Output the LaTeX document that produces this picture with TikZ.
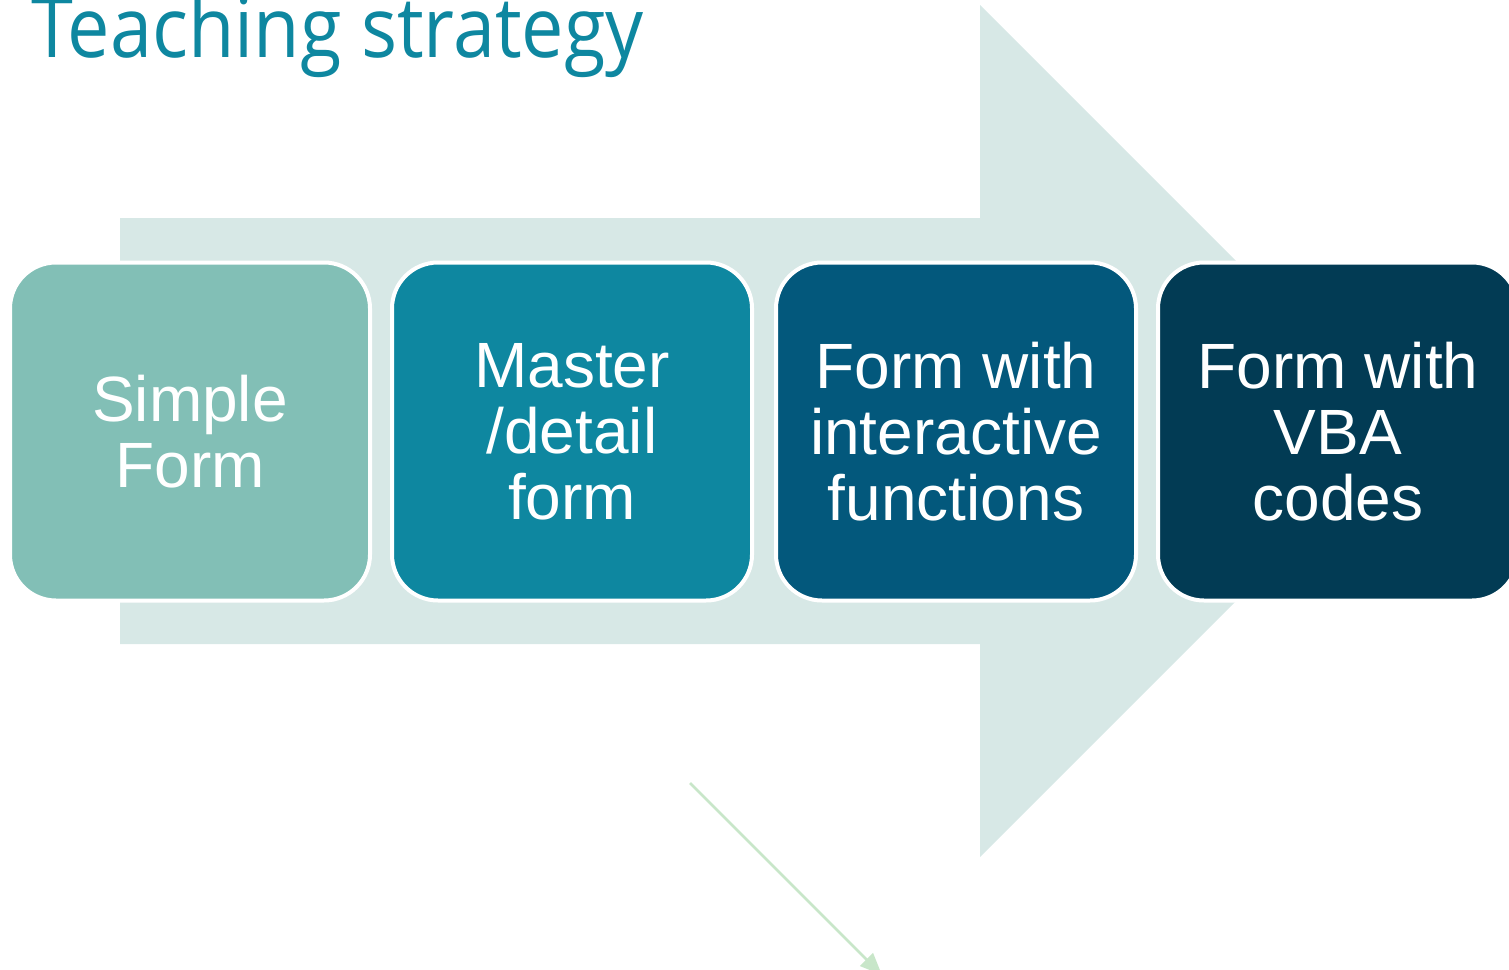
\documentclass[tikz,border=0pt]{standalone}
\usepackage{fontspec}
\setmainfont{Liberation Sans}
\newfontfamily\titlefont[FakeStretch=0.9]{Open Sans}
\usetikzlibrary{arrows.meta}
\definecolor{bgarrow}{HTML}{D7E8E6}
\definecolor{cone}{HTML}{82BFB6}
\definecolor{ctwo}{HTML}{0E87A0}
\definecolor{cthree}{HTML}{03587C}
\definecolor{cfour}{HTML}{023B54}
\definecolor{ctitle}{HTML}{0E87A0}
\definecolor{cgreen}{HTML}{C8E6C9}
\tikzset{
  stepbox/.style={draw=white, line width=4pt, rounded corners=46pt, minimum width=360pt, minimum height=338pt, text=white, align=center, inner sep=0pt, font=\fontsize{64}{66}\selectfont},
}
\begin{document}
\begin{tikzpicture}[x=1pt,y=-1pt]
\useasboundingbox (0,0) rectangle (1509,969);
% big background arrow
\fill[bgarrow] (120,218) -- (980,218) -- (980,5) -- (1406,431) -- (980,857) -- (980,644) -- (120,644) -- cycle;
% boxes
\node[stepbox, fill=cone] (b1) at (190,431.5) {Simple\\Form};
\node[stepbox, fill=ctwo] (b2) at (572,431.5) {Master\\/detail\\form};
\node[stepbox, fill=cthree] (b3) at (956,431.5) {Form with\\interactive\\functions};
\node[stepbox, fill=cfour] (b4) at (1338,431.5) {Form with\\VBA\\codes};
% title
\node[anchor=base west, inner sep=0pt, text=ctitle, font=\titlefont\fontsize{84}{90}\selectfont] (title) at (31,57) {Teaching strategy};
% green arrow
\coordinate (g1) at (690,783);
\coordinate (g2) at (882,975);
\draw[cgreen, line width=2.5pt, -{Triangle[length=22pt,width=18pt]}] (g1) -- (g2);
\end{tikzpicture}
\end{document}
